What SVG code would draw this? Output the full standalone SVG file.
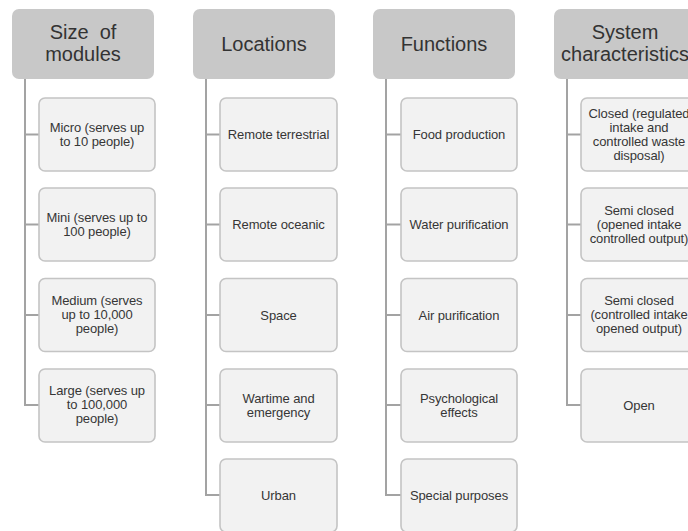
<svg xmlns="http://www.w3.org/2000/svg" width="688" height="531" viewBox="0 0 688 531">
  <style>
    .hdr { fill: #c8c8c8; }
    .box { fill: #f2f2f2; stroke: #c4c4c4; stroke-width: 1.6; }
    .ht { font-family: "Liberation Sans", Arial, sans-serif; font-size: 20px; fill: #333; text-anchor: middle; }
    .bt { font-family: "Liberation Sans", Arial, sans-serif; font-size: 13px; fill: #363636; text-anchor: middle; letter-spacing: -0.1px; }
    .wire { fill: none; stroke: #a3a3a3; stroke-width: 2; }
  </style>

  <!-- connectors: spine down from each header, tick into each child -->
  <g id="connectors">
    <path class="wire" d="M25 79 V405 H39 M25 134.5 H39 M25 224.5 H39 M25 315 H39"/>
    <path class="wire" d="M206 79 V495 H220 M206 134.5 H220 M206 224.5 H220 M206 315 H220 M206 405 H220"/>
    <path class="wire" d="M386 79 V495 H401 M386 134.5 H401 M386 224.5 H401 M386 315 H401 M386 405 H401"/>
    <path class="wire" d="M567 79 V405 H581 M567 134.5 H581 M567 224.5 H581 M567 315 H581"/>
  </g>

  <!-- column 1 -->
  <g id="size-of-modules">
    <rect class="hdr" x="12" y="9" width="142" height="70" rx="7"/>
    <text class="ht" x="83" y="39" xml:space="preserve">Size  of</text>
    <text class="ht" x="83" y="61">modules</text>
  </g>
  <g id="micro">
    <rect class="box" x="39" y="98" width="116" height="73" rx="6"/>
    <text class="bt" x="97" y="132">Micro (serves up</text>
    <text class="bt" x="97" y="146">to 10 people)</text>
  </g>
  <g id="mini">
    <rect class="box" x="39" y="188" width="116" height="73" rx="6"/>
    <text class="bt" x="97" y="222">Mini (serves up to</text>
    <text class="bt" x="97" y="236">100 people)</text>
  </g>
  <g id="medium">
    <rect class="box" x="39" y="278.5" width="116" height="73" rx="6"/>
    <text class="bt" x="97" y="305">Medium (serves</text>
    <text class="bt" x="97" y="319">up to 10,000</text>
    <text class="bt" x="97" y="333">people)</text>
  </g>
  <g id="large">
    <rect class="box" x="39" y="369" width="116" height="73" rx="6"/>
    <text class="bt" x="97" y="395">Large (serves up</text>
    <text class="bt" x="97" y="409">to 100,000</text>
    <text class="bt" x="97" y="423">people)</text>
  </g>

  <!-- column 2 -->
  <g id="locations">
    <rect class="hdr" x="193" y="9" width="142" height="70" rx="7"/>
    <text class="ht" x="264" y="51">Locations</text>
  </g>
  <g id="remote-terrestrial">
    <rect class="box" x="220" y="98" width="117" height="73" rx="6"/>
    <text class="bt" x="278.5" y="139">Remote terrestrial</text>
  </g>
  <g id="remote-oceanic">
    <rect class="box" x="220" y="188" width="117" height="73" rx="6"/>
    <text class="bt" x="278.5" y="229">Remote oceanic</text>
  </g>
  <g id="space">
    <rect class="box" x="220" y="278.5" width="117" height="73" rx="6"/>
    <text class="bt" x="278.5" y="319.5">Space</text>
  </g>
  <g id="wartime">
    <rect class="box" x="220" y="369" width="117" height="73" rx="6"/>
    <text class="bt" x="278.5" y="403">Wartime and</text>
    <text class="bt" x="278.5" y="417">emergency</text>
  </g>
  <g id="urban">
    <rect class="box" x="220" y="459" width="117" height="73" rx="6"/>
    <text class="bt" x="278.5" y="499.5">Urban</text>
  </g>

  <!-- column 3 -->
  <g id="functions">
    <rect class="hdr" x="373" y="9" width="142" height="70" rx="7"/>
    <text class="ht" x="444" y="51">Functions</text>
  </g>
  <g id="food-production">
    <rect class="box" x="401" y="98" width="116" height="73" rx="6"/>
    <text class="bt" x="459" y="139">Food production</text>
  </g>
  <g id="water-purification">
    <rect class="box" x="401" y="188" width="116" height="73" rx="6"/>
    <text class="bt" x="459" y="229">Water purification</text>
  </g>
  <g id="air-purification">
    <rect class="box" x="401" y="278.5" width="116" height="73" rx="6"/>
    <text class="bt" x="459" y="319.5">Air purification</text>
  </g>
  <g id="psychological-effects">
    <rect class="box" x="401" y="369" width="116" height="73" rx="6"/>
    <text class="bt" x="459" y="403">Psychological</text>
    <text class="bt" x="459" y="417">effects</text>
  </g>
  <g id="special-purposes">
    <rect class="box" x="401" y="459" width="116" height="73" rx="6"/>
    <text class="bt" x="459" y="499.5">Special purposes</text>
  </g>

  <!-- column 4 -->
  <g id="system-characteristics">
    <rect class="hdr" x="554" y="9" width="142" height="70" rx="7"/>
    <text class="ht" x="625" y="39">System</text>
    <text class="ht" x="625" y="61">characteristics</text>
  </g>
  <g id="closed">
    <rect class="box" x="581" y="98" width="116" height="73" rx="6"/>
    <text class="bt" x="639" y="118">Closed (regulated</text>
    <text class="bt" x="639" y="132">intake and</text>
    <text class="bt" x="639" y="146">controlled waste</text>
    <text class="bt" x="639" y="160">disposal)</text>
  </g>
  <g id="semi-closed-1">
    <rect class="box" x="581" y="188" width="116" height="73" rx="6"/>
    <text class="bt" x="639" y="215">Semi closed</text>
    <text class="bt" x="639" y="229">(opened intake</text>
    <text class="bt" x="639" y="243">controlled output)</text>
  </g>
  <g id="semi-closed-2">
    <rect class="box" x="581" y="278.5" width="116" height="73" rx="6"/>
    <text class="bt" x="639" y="305">Semi closed</text>
    <text class="bt" x="639" y="319">(controlled intake</text>
    <text class="bt" x="639" y="333">opened output)</text>
  </g>
  <g id="open">
    <rect class="box" x="581" y="369" width="116" height="73" rx="6"/>
    <text class="bt" x="639" y="409.5">Open</text>
  </g>
</svg>
